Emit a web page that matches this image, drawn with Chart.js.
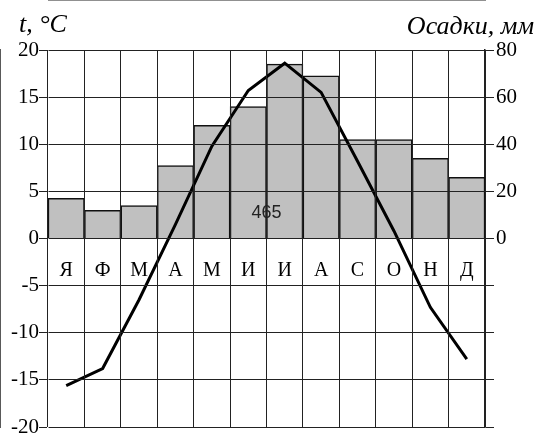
<!DOCTYPE html>
<html>
<head>
<meta charset="utf-8">
<script src="https://cdn.jsdelivr.net/npm/chart.js@4/dist/chart.umd.min.js"></script>
<style>
  html, body { margin: 0; padding: 0; background: #fff; overflow: hidden; }
  #wrap { width: 537px; height: 434px; position: relative; }
  canvas { display: block; width: 537px; height: 434px; }
</style>
</head>
<body>
<div id="wrap"><canvas id="c" width="537" height="434"></canvas></div>
<script>
// ---- data ----
const months = ['Я', 'Ф', 'М', 'А', 'М', 'И', 'И', 'А', 'С', 'О', 'Н', 'Д'];
const temperature = [-15.6, -13.8, -6.5, 1.5, 9.8, 15.7, 18.6, 15.5, 8.2, 0.8, -7.3, -12.8];
const precipitation = [17, 12, 14, 31, 48, 56, 74, 69, 42, 42, 34, 26];
const annualTotalLabel = '465';
const tempTitle = 't, °C';
const precipTitle = 'Осадки, мм';
const tempRange = [-20, 20];
const tempStep = 5;
const precipRange = [-80, 80];
const precipStep = 20;

const SERIF = '"Liberation Serif", "Times New Roman", serif';
const SANS = '"Liberation Sans", Arial, sans-serif';
const GRID = '#222';

const overlay = {
  id: 'overlay',
  beforeDraw(chart) {
    const ctx = chart.ctx;
    ctx.save();
    ctx.fillStyle = '#fff';
    ctx.fillRect(0, 0, chart.width, chart.height);
    ctx.restore();
  },
  afterDraw(chart) {
    const ctx = chart.ctx;
    const x = chart.scales.x, y = chart.scales.y;
    ctx.save();
    ctx.fillStyle = '#000';
    // month labels inside the plot
    ctx.font = '20px ' + SERIF;
    ctx.textAlign = 'center';
    ctx.textBaseline = 'middle';
    months.forEach((m, i) => {
      ctx.fillText(m, x.getPixelForValue(i), y.getPixelForValue(-3.45));
    });
    // annual precipitation total
    ctx.font = '18px ' + SANS;
    ctx.fillStyle = '#222';
    ctx.fillText(annualTotalLabel, (x.getPixelForValue(5) + x.getPixelForValue(6)) / 2, y.getPixelForValue(2.75));
    // axis titles
    ctx.fillStyle = '#000';
    ctx.font = 'italic 26px ' + SERIF;
    ctx.textBaseline = 'alphabetic';
    ctx.textAlign = 'left';
    ctx.fillText(tempTitle, 19, 32);
    ctx.textAlign = 'right';
    ctx.fillText(precipTitle, 534, 34);
    ctx.restore();
  }
};

new Chart(document.getElementById('c'), {
  type: 'bar',
  data: {
    labels: months,
    datasets: [
      {
        type: 'line',
        data: temperature,
        xAxisID: 'x',
        yAxisID: 'y',
        borderColor: '#000',
        borderWidth: 3,
        pointRadius: 0,
        tension: 0,
        fill: false,
        order: 0
      },
      {
        type: 'bar',
        data: precipitation,
        xAxisID: 'x',
        yAxisID: 'y1',
        backgroundColor: '#c0c0c0',
        borderColor: '#111',
        borderWidth: 1.5,
        categoryPercentage: 1,
        barPercentage: 1,
        order: 1
      }
    ]
  },
  options: {
    responsive: false,
    animation: false,
    layout: { padding: { top: 50, bottom: 7, left: 0, right: 0 } },
    plugins: { legend: { display: false }, tooltip: { enabled: false } },
    scales: {
      x: {
        type: 'category',
        offset: true,
        grid: { color: GRID, lineWidth: 1, drawTicks: false, z: 1, offset: true },
        border: { display: true, color: GRID, width: 1 },
        ticks: { display: false, padding: 0 },
        afterFit(s) { s.height = 0; s.paddingLeft = 0; s.paddingRight = 0; }
      },
      y: {
        type: 'linear',
        position: 'left',
        min: tempRange[0], max: tempRange[1],
        ticks: { stepSize: tempStep, padding: 0, color: '#000', font: { family: SERIF, size: 21 } },
        grid: { color: GRID, lineWidth: 1, tickLength: 9, z: 1 },
        border: { display: true, color: GRID, width: 1.5 },
        afterFit(s) { s.width = 48; s.paddingTop = 0; s.paddingBottom = 0; }
      },
      y1: {
        type: 'linear',
        position: 'right',
        min: precipRange[0], max: precipRange[1],
        ticks: {
          stepSize: precipStep, padding: 2, color: '#000', font: { family: SERIF, size: 21 },
          callback: (v) => (v >= 0 ? String(v) : '')
        },
        grid: { drawOnChartArea: false, color: GRID, lineWidth: 1, tickLength: 9 },
        border: { display: true, color: GRID, width: 1.5 },
        afterFit(s) { s.width = 52; s.paddingTop = 0; s.paddingBottom = 0; }
      }
    }
  },
  plugins: [overlay]
});
</script>
</body>
</html>
